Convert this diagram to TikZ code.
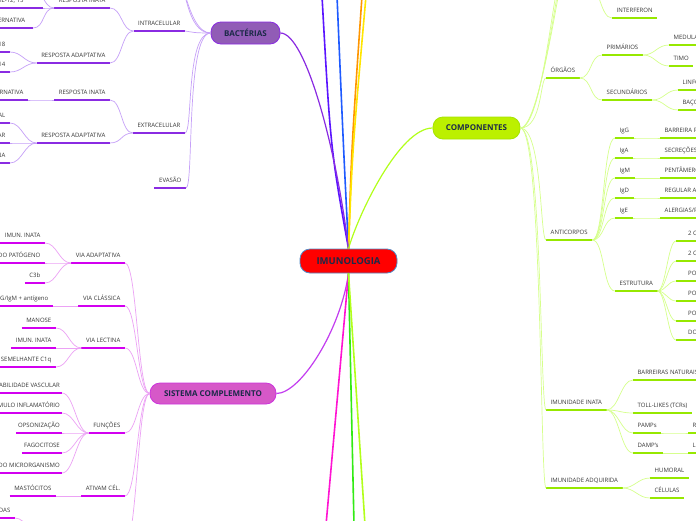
\documentclass[tikz,border=0pt]{standalone}
\usepackage{fontspec}
\setmainfont{Open Sans}
\definecolor{imuRed}{RGB}{255,0,0}
\definecolor{imuEdge}{RGB}{80,140,200}
\definecolor{imuInk}{RGB}{28,42,72}
\definecolor{labInk}{RGB}{55,55,55}
\definecolor{bacFill}{RGB}{145,92,182}
\definecolor{bacLine}{RGB}{138,43,226}
\definecolor{bacLight}{RGB}{198,160,248}
\definecolor{cplFill}{RGB}{214,88,200}
\definecolor{cplEdge}{RGB}{204,51,220}
\definecolor{cplLine}{RGB}{210,0,240}
\definecolor{cplLight}{RGB}{236,162,245}
\definecolor{cmpFill}{RGB}{188,240,0}
\definecolor{cmpEdge}{RGB}{165,228,0}
\definecolor{cmpLine}{RGB}{150,232,0}
\definecolor{cmpLight}{RGB}{214,255,140}
\definecolor{brVioleta}{RGB}{90,20,255}
\definecolor{brAzul}{RGB}{30,90,255}
\definecolor{brLaranja}{RGB}{255,150,0}
\definecolor{brAmarelo}{RGB}{255,230,0}
\definecolor{brLima}{RGB}{178,255,26}
\definecolor{brRosa}{RGB}{255,20,210}
\definecolor{brVerde}{RGB}{50,235,20}
\definecolor{brMagenta}{RGB}{195,60,240}

\begin{document}
\begin{tikzpicture}[x=1pt, y=-1pt,
  main/.style={draw, line width=.8pt, rounded corners=10pt, text=imuInk,
               font=\bfseries\fontsize{8}{9}\selectfont, minimum height=22pt},
  lab/.style={font=\fontsize{6}{7}\selectfont, text=labInk, inner xsep=4.5pt,
              inner ysep=5.5pt, text height=4pt, text depth=0pt},
  ul/.style={append after command={\pgfextra{\let\ulnode\tikzlastnode}
              (\ulnode.south west) edge[draw=#1, line width=1.5pt] (\ulnode.south east)}},
  labL/.style={lab, anchor=south east, ul=#1},
  labR/.style={lab, anchor=south west, ul=#1},
  toLL/.style 2 args={to path={.. controls +(-#1,0) and +(#2,0) .. (\tikztotarget)}},
  toRR/.style 2 args={to path={.. controls +(#1,0) and +(-#2,0) .. (\tikztotarget)}},
  toL/.style={toLL={#1}{#1}}, toL/.default=12,
  toR/.style={toRR={#1}{#1}}, toR/.default=12,
  cnB/.style={draw=bacLight, line width=.7pt, toL},
  cnS/.style={draw=cplLight, line width=.7pt, toL},
  cnC/.style={draw=cmpLight, line width=.7pt, toR},
  trunk/.style={line width=1.6pt}
]
  \fill[white] (0,0) rectangle (696,520);
  \useasboundingbox (0,0) rectangle (696,520);

  % main topics
  \node[main, fill=imuRed, draw=imuEdge, font=\bfseries\fontsize{9.5}{11}\selectfont,
        minimum width=97pt, minimum height=24pt] (imu) at (348.5,261) {IMUNOLOGIA};
  \node[main, fill=bacFill, draw=bacLine, minimum width=69pt] (bac) at (245.5,33) {BACTÉRIAS};
  \node[main, fill=cmpFill, draw=cmpEdge, minimum width=87pt] (cmp) at (476.5,128) {COMPONENTES};
  \node[main, fill=cplFill, draw=cplEdge, minimum width=126pt, minimum height=21pt]
        (cpl) at (213,393.5) {SISTEMA COMPLEMENTO};

  % free ends outside the frame
  \coordinate (tVio)   at (322,-4);
  \coordinate (tAzul)  at (337,-4);
  \coordinate (tLar)   at (362,-4);
  \coordinate (tAma)   at (366,-4);
  \coordinate (tRosa)  at (326,525);
  \coordinate (tVerde) at (354,525);
  \coordinate (tLima)  at (365,525);
  \coordinate (oB1) at (178,-20);
  \coordinate (oB2) at (172,-45);
  \coordinate (oI)  at (30,-16);
  \coordinate (oS)  at (125,545);
  \coordinate (oD)  at (45,540);
  \coordinate (oC1) at (560,-20);
  \coordinate (oC2) at (566,-45);
  \coordinate (oC3) at (572,-70);
  \coordinate (oF)  at (588,-16);

  \draw[trunk, brVioleta] (imu.north) .. controls +(-18,-100) .. (tVio);
  \draw[trunk, brAzul]    (imu.north) .. controls +(-5,-100) .. (tAzul);
  \draw[trunk, brLaranja] (imu.north) .. controls +(3,-100) .. (tLar);
  \draw[trunk, brAmarelo] (imu.north) .. controls +(4,-100) .. (tAma);
  \draw[line width=1.2pt, bacLine] (imu.north) .. controls +(-12,-100) and +(25,0) .. (bac.east);
  \draw[line width=1.2pt, brLima]  (imu.north) .. controls +(10,-35) and +(-33,0) .. (cmp.west);
  \draw[line width=1.2pt, brMagenta] (imu.south) .. controls +(-8,57) and +(24,0) .. (cpl.east);
  \draw[trunk, brRosa]  (imu.south) -- (tRosa);
  \draw[trunk, brVerde] (imu.south) -- (tVerde);
  \draw[trunk, brLima]  (imu.south) -- (tLima);

  % BACTÉRIAS
  \node[labL=bacLine] (intra)  at (185,31)  {INTRACELULAR};
  \node[labL=bacLine] (inataI) at (110,8)   {RESPOSTA INATA};
  \node[labL=bacLine, minimum width=62pt] (il)   at (43,8)  {IL-12, 15};
  \node[labL=bacLine, minimum width=63pt] (altI) at (33,28) {VIA ALTERNATIVA};
  \node[labL=bacLine] (adaptI) at (110,63)  {RESPOSTA ADAPTATIVA};
  \node[labL=bacLine] (n18)    at (10,52)   {18};
  \node[labL=bacLine] (n14)    at (10,72)   {14};
  \node[labL=bacLine] (extra)  at (185,133) {EXTRACELULAR};
  \node[labL=bacLine] (inataE) at (110,100) {RESPOSTA INATA};
  \node[labL=bacLine] (altE)   at (28,100)  {VIA ALTERNATIVA};
  \node[labL=bacLine] (adaptE) at (110,143) {RESPOSTA ADAPTATIVA};
  \node[labL=bacLine] (humB)   at (10,123)  {HUMORAL};
  \node[labL=bacLine] (celB)   at (10,143)  {CELULAR};
  \node[labL=bacLine] (toxB)   at (10,163)  {ANTITOXINA};
  \node[labL=bacLine] (eva)    at (186,188) {EVASÃO};

  \foreach \c in {intra.south east, extra.south east, eva.south east, oB1, oB2}
    \draw[cnB, toLL={25}{8}] (bac.west) to (\c);
  \foreach \c in {inataI, adaptI} \draw[cnB] (intra.south west) to (\c.south east);
  \foreach \c in {il.south east, altI.south east, oI} \draw[cnB] (inataI.south west) to (\c);
  \foreach \c in {n18, n14} \draw[cnB] (adaptI.south west) to (\c.south east);
  \foreach \c in {inataE, adaptE} \draw[cnB] (extra.south west) to (\c.south east);
  \draw[cnB] (inataE.south west) to (altE.south east);
  \foreach \c in {humB, celB, toxB} \draw[cnB] (adaptE.south west) to (\c.south east);

  % SISTEMA COMPLEMENTO
  \node[labL=cplLine] (vAdapt) at (125,263) {VIA ADAPTATIVA};
  \node[labL=cplLine] (imun1)  at (45,243)  {IMUN. INATA};
  \node[labL=cplLine] (patog)  at (45,263)  {SUPERFÍCIE DO PATÓGENO};
  \node[labL=cplLine] (c3b)    at (45,283)  {C3b};
  \node[labL=cplLine] (vClas)  at (125,306) {VIA CLÁSSICA};
  \node[labL=cplLine] (igm)    at (53,306)  {IgG/IgM + antígeno};
  \node[labL=cplLine] (vLect)  at (125,348) {VIA LECTINA};
  \node[labL=cplLine] (manose) at (56,328)  {MANOSE};
  \node[labL=cplLine] (imun2)  at (56,348)  {IMUN. INATA};
  \node[labL=cplLine] (c1q)    at (56,367)  {PROTEÍNA SEMELHANTE C1q};
  \node[labL=cplLine] (func)   at (125,433) {FUNÇÕES};
  \node[labL=cplLine, inner xsep=2pt] (perm)  at (62,393) {PERMEABILIDADE VASCULAR};
  \node[labL=cplLine, inner xsep=2pt] (estim) at (62,413) {ESTÍMULO INFLAMATÓRIO};
  \node[labL=cplLine, inner xsep=2pt] (opso)  at (62,433) {OPSONIZAÇÃO};
  \node[labL=cplLine, inner xsep=2pt] (fago)  at (62,453) {FAGOCITOSE};
  \node[labL=cplLine, inner xsep=2pt] (lise)  at (62,473) {LISE DO MICRORGANISMO};
  \node[labL=cplLine] (ativ)   at (125,496) {ATIVAM CÉL.};
  \node[labL=cplLine] (masto)  at (56,496)  {MASTÓCITOS};
  \node[labL=cplLine] (das)    at (15,518)  {ATIVADAS};

  \foreach \c in {vAdapt.south east, vClas.south east, vLect.south east,
                  func.south east, ativ.south east, oS}
    \draw[cnS] (cpl.west) to (\c);
  \foreach \c in {imun1, patog, c3b} \draw[cnS] (vAdapt.south west) to (\c.south east);
  \draw[cnS] (vClas.south west) to (igm.south east);
  \foreach \c in {manose, imun2, c1q} \draw[cnS] (vLect.south west) to (\c.south east);
  \foreach \c in {perm, estim, opso, fago, lise} \draw[cnS] (func.south west) to (\c.south east);
  \draw[cnS] (ativ.south west) to (masto.south east);
  \draw[cnS] (oD) to (das.south east);

  % COMPONENTES
  \node[labR=cmpLine] (org)   at (546,78)  {ÓRGÃOS};
  \node[labR=cmpLine] (prim)  at (602,55)  {PRIMÁRIOS};
  \node[labR=cmpLine] (sec)   at (602,100) {SECUNDÁRIOS};
  \node[labR=cmpLine] (med)   at (669,45)  {MEDULA ÓSSEA};
  \node[labR=cmpLine] (timo)  at (669,66)  {TIMO};
  \node[labR=cmpLine] (linf)  at (678,90)  {LINFONODOS};
  \node[labR=cmpLine] (baco)  at (678,110) {BAÇO};
  \node[labR=cmpLine] (inter) at (612,18)  {INTERFERON};
  \node[labR=cmpLine] (anti)  at (546,240) {ANTICORPOS};
  \node[labR=cmpLine] (igG)   at (615,138) {IgG};
  \node[labR=cmpLine] (igA)   at (615,158) {IgA};
  \node[labR=cmpLine] (igM)   at (615,178) {IgM};
  \node[labR=cmpLine] (igD)   at (615,198) {IgD};
  \node[labR=cmpLine] (igE)   at (615,218) {IgE};
  \node[labR=cmpLine] (figG)  at (660,138) {BARREIRA PLACENTÁRIA};
  \node[labR=cmpLine] (figA)  at (660,158) {SECREÇÕES};
  \node[labR=cmpLine] (figM)  at (660,178) {PENTÂMERO};
  \node[labR=cmpLine] (figD)  at (660,198) {REGULAR A ATIVAÇÃO};
  \node[labR=cmpLine] (figE)  at (660,218) {ALERGIAS/PARASITAS};
  \node[labR=cmpLine] (estr)  at (615,291) {ESTRUTURA};
  \node[labR=cmpLine, inner xsep=12pt] (e1) at (676,241) {2 CADEIAS PESADAS};
  \node[labR=cmpLine, inner xsep=12pt] (e2) at (676,261) {2 CADEIAS LEVES};
  \node[labR=cmpLine, inner xsep=12pt] (e3) at (676,281) {PORÇÃO FAB};
  \node[labR=cmpLine, inner xsep=12pt] (e4) at (676,301) {PORÇÃO FC};
  \node[labR=cmpLine, inner xsep=12pt] (e5) at (676,321) {PONTES DISSULFETO};
  \node[labR=cmpLine, inner xsep=12pt] (e6) at (676,340) {DOMÍNIOS};
  \node[labR=cmpLine] (inata) at (546,410) {IMUNIDADE INATA};
  \node[labR=cmpLine] (barN)  at (633,380) {BARREIRAS NATURAIS};
  \node[labR=cmpLine] (toll)  at (633,413) {TOLL-LIKES (TCRs)};
  \node[labR=cmpLine] (pamp)  at (633,433) {PAMPs};
  \node[labR=cmpLine] (ri)    at (688,433) {RI};
  \node[labR=cmpLine] (damp)  at (633,453) {DAMP's};
  \node[labR=cmpLine] (lesao) at (688,453) {LESÃO};
  \node[labR=cmpLine] (adq)   at (546,488) {IMUNIDADE ADQUIRIDA};
  \node[labR=cmpLine] (hum)   at (650,478) {HUMORAL};
  \node[labR=cmpLine] (celu)  at (650,498) {CÉLULAS};

  \foreach \c in {org.south west, anti.south west, inata.south west, adq.south west, oC1, oC2, oC3}
    \draw[cnC, toRR={22}{6}] (cmp.east) to (\c);
  \draw[cnC] (oF) to (inter.south west);
  \foreach \c in {prim, sec} \draw[cnC] (org.south east) to (\c.south west);
  \foreach \c in {med, timo} \draw[cnC] (prim.south east) to (\c.south west);
  \foreach \c in {linf, baco} \draw[cnC] (sec.south east) to (\c.south west);
  \foreach \c in {igG, igA, igM, igD, igE, estr} \draw[cnC] (anti.south east) to (\c.south west);
  \foreach \c in {igG, igA, igM, igD, igE} \draw[cnC] (\c.south east) to (f\c.south west);
  \foreach \c in {e1, e2, e3, e4, e5, e6} \draw[cnC, toR=8] (estr.south east) to (\c.south west);
  \foreach \c in {barN, toll, pamp, damp} \draw[cnC] (inata.south east) to (\c.south west);
  \draw[cnC] (pamp.south east) to (ri.south west);
  \draw[cnC] (damp.south east) to (lesao.south west);
  \foreach \c in {hum, celu} \draw[cnC] (adq.south east) to (\c.south west);
\end{tikzpicture}
\end{document}
